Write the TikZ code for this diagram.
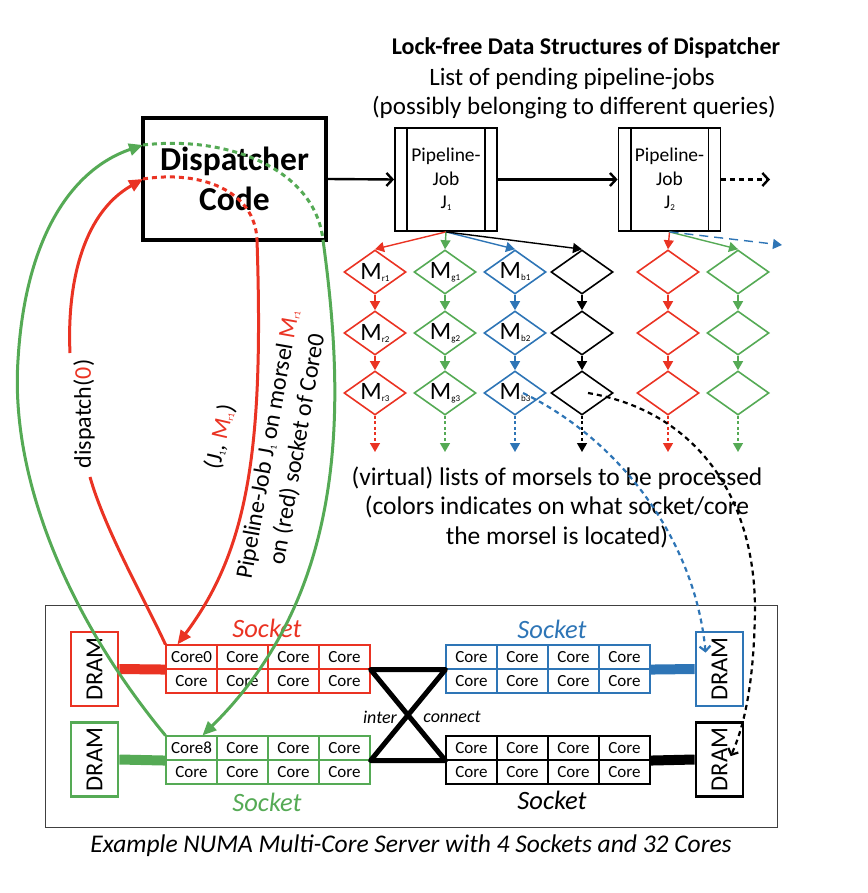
\documentclass[tikz,border=0pt]{standalone}
\usepackage{fontspec}
\setmainfont{Carlito}
\usetikzlibrary{arrows.meta,shapes.geometric,calc}
\definecolor{cred}{RGB}{234,51,35}
\definecolor{cgreen}{RGB}{85,170,85}
\definecolor{cblue}{RGB}{46,117,182}
\newcommand{\mysub}[1]{{\fontsize{9}{9}\selectfont\raisebox{-2pt}{#1}}}
\newcommand{\txt}{\fontsize{25}{29.5}\selectfont}
\newcommand{\rtxt}{\fontsize{24}{29.5}\selectfont}
\begin{document}
\begin{tikzpicture}[x=1pt,y=-1pt,
  dia/.style={diamond, draw=#1, line width=1.6pt, minimum width=62pt, minimum height=44pt, inner sep=0pt},
  mlab/.style={font=\fontsize{25}{25}\selectfont, inner sep=0pt},
  core/.style={draw=#1, line width=1.1pt, minimum width=51pt, minimum height=24pt, inner sep=0pt, font=\fontsize{17}{17}\selectfont},
  dram/.style={draw=#1, line width=2.8pt, minimum width=47pt, minimum height=74pt, inner sep=0pt},
  dramtxt/.style={rotate=90, font=\fontsize{24.5}{24.5}\selectfont, inner sep=0pt},
  sock/.style={font=\itshape\fontsize{26.5}{26.5}\selectfont, text=#1, inner sep=0pt},
  job/.style={draw, line width=1.8pt, minimum width=102pt, minimum height=103pt, align=center, font=\fontsize{19.5}{23.5}\selectfont, inner sep=0pt},
  tri/.style={line width=1.4pt, -{Triangle[length=9pt,width=10pt]}},
  barb/.style={line width=2.4pt, -{Straight Barb[length=6pt,width=13pt]}},
  bigtri/.style={line width=3pt, -{Triangle[length=14pt,width=12pt]}},
  dsh/.style={dash pattern=on 5pt off 4pt},
  open/.style={line width=2.2pt, dash pattern=on 5pt off 4pt, -{Straight Barb[length=5pt,width=11pt]}}
]
\useasboundingbox (0,0) rectangle (867,893);

% titles
\node[font=\bfseries\fontsize{24}{24}\selectfont] (title) at (586,48) {Lock-free Data Structures of Dispatcher};
\node[font=\txt] (sub1) at (572,79) {List of pending pipeline-jobs};
\node[font=\txt] (sub2) at (574,108) {(possibly belonging to different queries)};

% dispatcher
\node[draw, line width=4pt, minimum width=183pt, minimum height=122pt, align=center, inner sep=0pt,
  font=\bfseries\fontsize{33.5}{40}\selectfont] (disp) at (234.5,179) {Dispatcher\\Code};

% jobs
\node[job] (J1) at (446,179.5) {Pipeline-\\Job\\J\mysub{1}};
\node[job] (J2) at (669.5,179.5) {Pipeline-\\Job\\J\mysub{2}};
\foreach \J in {J1,J2}{
  \draw[line width=1.8pt] ([xshift=13pt]\J.north west) -- ([xshift=13pt]\J.south west);
  \draw[line width=1.8pt] ([xshift=-13pt]\J.north east) -- ([xshift=-13pt]\J.south east);
}
\coordinate (Jend) at (770,179.5);
\draw[barb] (disp.east) -- (J1.west);
\draw[barb] (J1.east) -- (J2.west);
\draw[barb, dash pattern=on 5pt off 4pt] (J2.east) -- (Jend);

% diamonds
\foreach \n/\x/\c in {r/375/cred, g/445/cgreen, b/515/cblue, k/582/black, rr/668/cred, gg/738/cgreen}{
  \node[dia=\c] (\n1) at (\x,272) {};
  \node[dia=\c] (\n2) at (\x,333) {};
  \node[dia=\c] (\n3) at (\x,393) {};
  \coordinate (\n4) at (\x,452);
  \draw[tri, \c] (\n1.south) -- (\n2.north);
  \draw[tri, \c] (\n2.south) -- (\n3.north);
  \draw[tri, \c, dash pattern=on 3pt off 2.5pt] (\n3.south) -- (\n4);
}
\foreach \n in {r,g,b}{
  \foreach \k in {1,2,3}{
    \node[mlab] (\n\k t) at (\n\k) {M\mysub{\n\k}};
  }
}
\draw[tri, cred] (J1.south) -- (r1.north);
\draw[tri, cgreen] (J1.south) -- (g1.north);
\draw[tri, cblue] (J1.south) -- (b1.north);
\draw[tri, black] (J1.south) -- (k1.north);
\draw[tri, cred] (J2.south) -- (rr1.north);
\draw[tri, cgreen] (J2.south) -- (gg1.north);
\coordinate (jb) at (782,245);
\draw[tri, cblue, dash pattern=on 9pt off 6pt] (J2.south) -- (jb);

% morsel text
\node[font=\fontsize{25.5}{29.5}\selectfont, align=center] (vtext) at (557,507) {(virtual) lists of morsels to be processed\\(colors indicates on what socket/core\\the morsel is located)};

% server
\node[draw=black!75, line width=1pt, minimum width=732pt, minimum height=222pt, inner sep=0pt] (srv) at (411,716) {};
\node[font=\itshape\fontsize{25.5}{25.5}\selectfont] (cap) at (411,846) {Example NUMA Multi-Core Server with 4 Sockets and 32 Cores};

\node[dram=cred] (drR) at (94.5,669) {};
\node[dram=cgreen] (drG) at (94.5,759.5) {};
\node[dram=cblue] (drB) at (719.5,669) {};
\node[dram=black] (drK) at (719.5,759.5) {};
\foreach \d in {drR,drG,drB,drK}{\node[dramtxt] (\d t) at (\d) {DRAM};}

\foreach \i/\yy in {1/657,2/681}{
  \foreach \j in {1,...,4}{
    \node[core=cred] (rc-\i-\j) at ({140.5+51*\j},\yy) {\ifnum\i\j=11 Core0\else Core\fi};
    \node[core=cblue] (bc-\i-\j) at ({420.5+51*\j},\yy) {Core};
  }
}
\foreach \i/\yy in {1/748,2/772}{
  \foreach \j in {1,...,4}{
    \node[core=cgreen] (gc-\i-\j) at ({140.5+51*\j},\yy) {\ifnum\i\j=11 Core8\else Core\fi};
    \node[core=black] (kc-\i-\j) at ({420.5+51*\j},\yy) {Core};
  }
}
\node[sock=cred] (sR) at (267,628) {Socket};
\node[sock=cgreen] (sG) at (267,802) {Socket};
\node[sock=cblue] (sB) at (552,629) {Socket};
\node[sock=black] (sK) at (552,800) {Socket};

\draw[cred, line width=10pt] (drR.east) -- (rc-1-1.south west);
\draw[cgreen, line width=10pt] (drG.east) -- (gc-1-1.south west);
\draw[cblue, line width=10pt] (bc-1-4.south east) -- (drB.west);
\draw[black, line width=10pt] (kc-1-4.south east) -- (drK.west);

\draw[line width=5pt, line join=round, line cap=round] (rc-1-4.south east) -- (bc-1-1.south west) -- (gc-1-4.south east) -- (kc-1-1.south west) -- cycle;
\node[font=\itshape\fontsize{18}{18}\selectfont, inner sep=0pt] (inter) at (380,717) {inter};
\node[font=\itshape\fontsize{18}{18}\selectfont, inner sep=0pt] (conn) at (452,717) {connect};

% dashed location arcs
\coordinate (bs) at ($(b3)+(8,0)$);
\coordinate (be) at ($(drB.north west)+(11,22)$);
\draw[open, cblue] (bs) .. controls (620,440) and (695,540) .. (be);
\coordinate (ks) at ($(k3)+(6,0)$);
\coordinate (km) at (755,610);
\coordinate (ke) at ($(drK.north west)+(36,35)$);
\draw[open, black] (ks) .. controls (690,410) and (755,490) .. (km) .. controls (754,680) and (745,725) .. (ke);

% dispatch curves
\coordinate (dR) at (143,179);
\coordinate (dG) at (143,145);
\coordinate (dRo) at (257,240);
\coordinate (dGo) at (323,240);
\coordinate (gapA) at (90,477);
\coordinate (gapB) at (70,353);
\coordinate (c0in) at ($(rc-1-1.north west)+(12,0)$);
\coordinate (c8in) at ($(gc-1-1.north west)+(37,0)$);

\draw[cred, line width=3pt] (rc-1-1.north west) .. controls (145,600) and (105,530) .. (gapA);
\draw[cred, bigtri] (gapB) .. controls (67,290) and (80,215) .. (dR);
\draw[cred, line width=3pt, dsh] (dR) .. controls (200,170) and (255,190) .. (dRo);
\draw[cred, bigtri] (dRo) .. controls (264,450) and (248,550) .. (c0in);

\draw[cgreen, bigtri] (gc-1-1.north west) .. controls (70,620) and (10,480) .. (18,360) .. controls (25,240) and (70,170) .. (dG);
\draw[cgreen, line width=3pt, dsh] (dG) .. controls (230,135) and (315,170) .. (dGo);
\draw[cgreen, bigtri] (dGo) .. controls (345,400) and (350,590) .. (c8in);

\node[rotate=90, font=\rtxt, inner sep=0pt] (dlab) at (84,414) {dispatch(\textcolor{cred}{0})};
\node[rotate=77, font=\rtxt, inner sep=0pt] (jlab) at (220,437) {(J\mysub{1}, \textcolor{cred}{M\mysub{r1}})};
\node[rotate=80, font=\rtxt, align=center, inner sep=0pt] (plab) at (283,447) {Pipeline-Job J\mysub{1} on morsel \textcolor{cred}{M\mysub{r1}}\\on (red) socket of Core0};
\end{tikzpicture}
\end{document}
